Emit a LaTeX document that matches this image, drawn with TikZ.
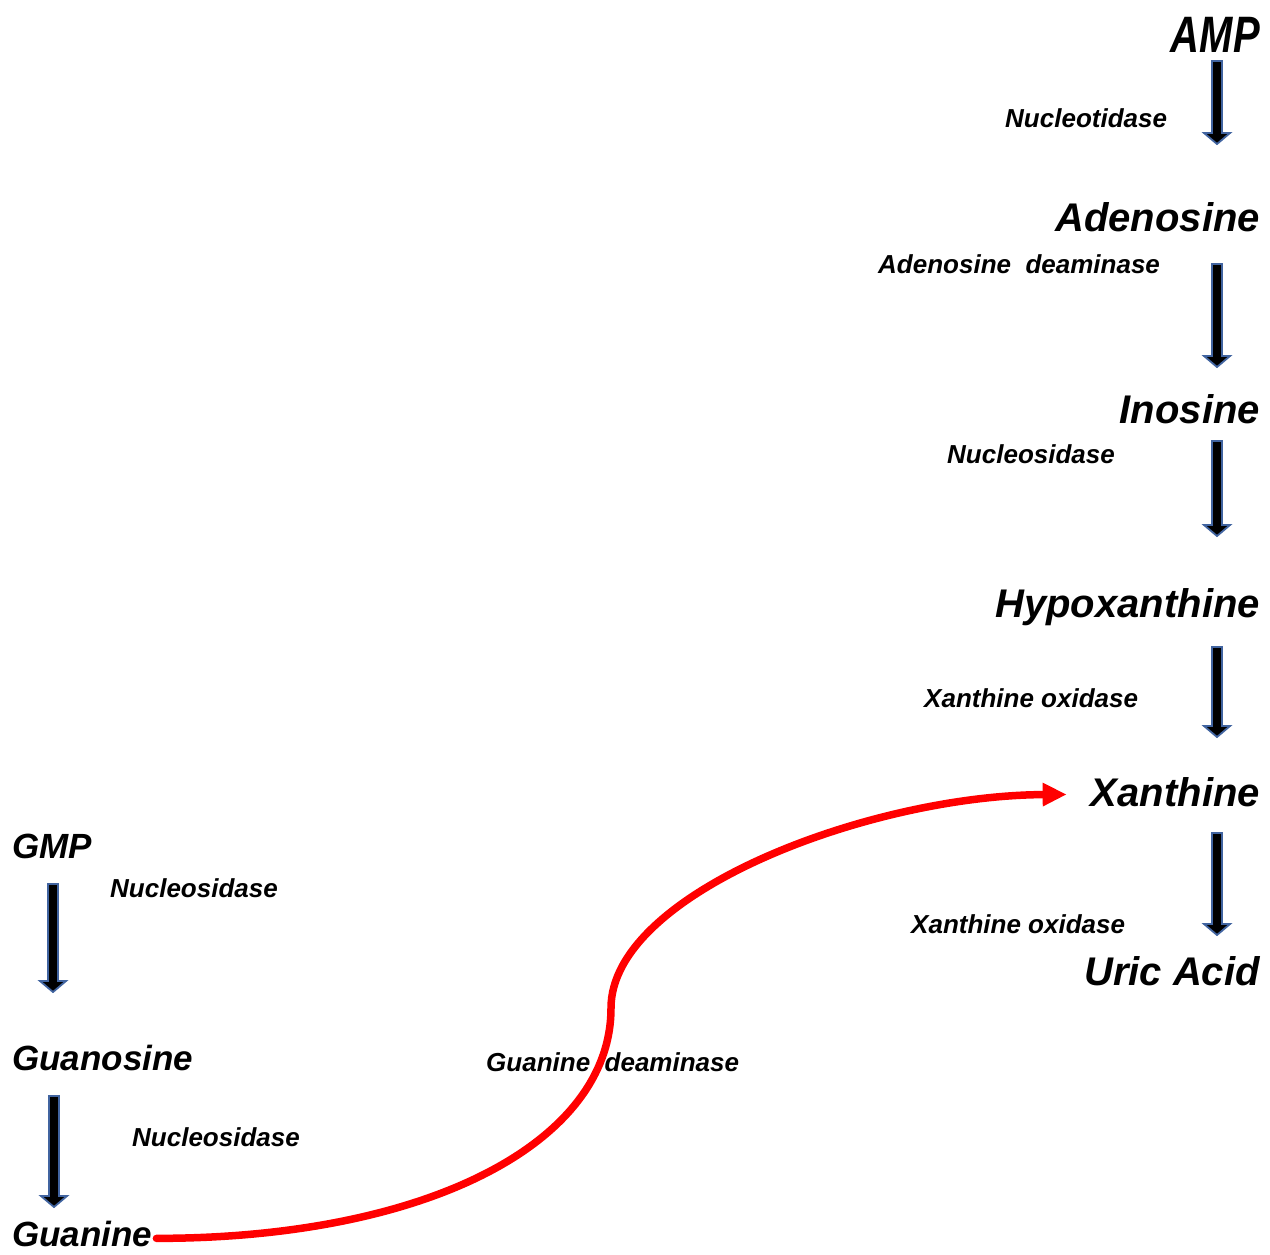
\documentclass[tikz,border=0pt]{standalone}
\usepackage{fontspec}
\setmainfont{Liberation Sans}
\usetikzlibrary{arrows.meta,calc}
\definecolor{arrowrim}{RGB}{65,100,160}
\definecolor{deamred}{RGB}{255,0,0}
\tikzset{
  metab/.style={font=\fontsize{40}{44}\selectfont\bfseries\itshape,inner sep=0pt,anchor=base east},
  gmetab/.style={font=\fontsize{35}{40}\selectfont\bfseries\itshape,inner sep=0pt,anchor=base west},
  enzyme/.style={font=\fontsize{26}{30}\selectfont\bfseries\itshape,inner sep=0pt,anchor=base west},
  blockarrow/.style={draw=arrowrim,line width=1.8pt,fill=black,line join=miter},
  deamline/.style={deamred,line width=7.5pt,line cap=round,-{Triangle[length=24pt,width=22pt]}}
}
\newcommand\blockarrow[2]{%
  \draw[blockarrow] let \p1=(#1), \p2=(#2) in
    (\x1-5pt,\y1) -- (\x1+5pt,\y1) -- (\x1+5pt,\y2+11pt) -- (\x1+13pt,\y2+11pt)
    -- (\x2,\y2) -- (\x1-13pt,\y2+11pt) -- (\x1-5pt,\y2+11pt) -- cycle;}
\begin{document}
\begin{tikzpicture}[x=1pt,y=-1pt]
      \useasboundingbox (0,0) rectangle (1270,1254);
      % adenine side
      \node[metab] (amp) at (1260,52) {\scalebox{1}[1.28]{AMP}};
      \node[metab] (adenosine) at (1260,231) {Adenosine};
      \node[metab] (inosine) at (1260,423) {Inosine};
      \node[metab] (hypox) at (1260,617) {Hypoxanthine};
      \node[metab] (xanthine) at (1260,806) {Xanthine};
      \node[metab] (uric) at (1260,985) {Uric Acid};
      \node[enzyme] (nt) at (1005,127) {Nucleotidase};
      \node[enzyme] (ada) at (878,273) {Adenosine\ \ deaminase};
      \node[enzyme] (ns1) at (947,463) {Nucleosidase};
      \node[enzyme] (xo1) at (924,707) {Xanthine oxidase};
      \node[enzyme] (xo2) at (911,933) {Xanthine oxidase};
      % guanine side
      \node[gmetab] (gmp) at (12,858) {GMP};
      \node[gmetab] (guanosine) at (12,1070) {Guanosine};
      \node[gmetab] (guanine) at (12,1246) {Guanine};
      \node[enzyme] (ns2) at (110,897) {Nucleosidase};
      \node[enzyme] (ns3) at (132,1146) {Nucleosidase};
      \node[enzyme] (gda) at (486,1071) {Guanine\ \ deaminase};
      % block arrows
      \coordinate (a1) at (1217,61);   \coordinate (b1) at (1217,144);
      \coordinate (a2) at (1217,264);  \coordinate (b2) at (1217,367);
      \coordinate (a3) at (1217,441);  \coordinate (b3) at (1217,536);
      \coordinate (a4) at (1217,647);  \coordinate (b4) at (1217,737);
      \coordinate (a5) at (1217,833);  \coordinate (b5) at (1217,935);
      \coordinate (g1) at (53,884);    \coordinate (h1) at (53,992);
      \coordinate (g2) at (54,1096);   \coordinate (h2) at (54,1207);
      \blockarrow{a1}{b1}
      \blockarrow{a2}{b2}
      \blockarrow{a3}{b3}
      \blockarrow{a4}{b4}
      \blockarrow{a5}{b5}
      \blockarrow{g1}{h1}
      \blockarrow{g2}{h2}
      % guanine deaminase
      \coordinate (bend) at (611,1008);
      \draw[deamline,shorten >=24pt] ($(guanine.mid east)+(4,-5)$) .. controls +(270,0) and +(0,135) .. (bend)
        .. controls +(0,-115) and +(-221,1) .. ($(xanthine.mid west)+(0,-9)$);
    \end{tikzpicture}
\end{document}
